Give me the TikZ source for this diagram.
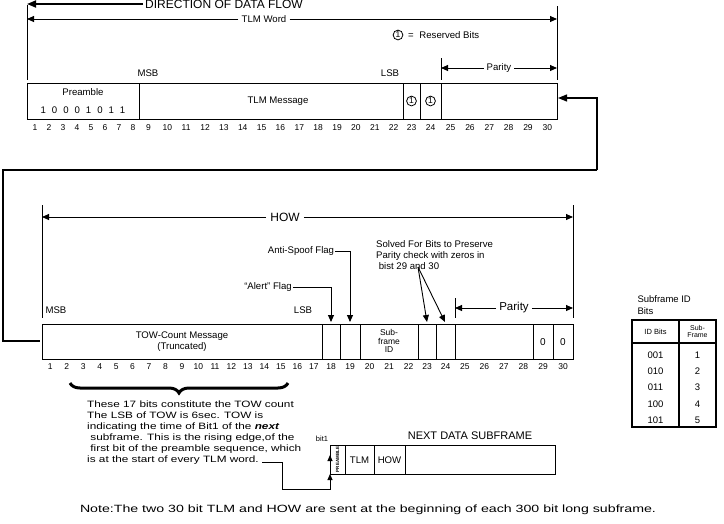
\documentclass[tikz,border=0pt]{standalone}
\usepackage{fontspec}
\setmainfont{Liberation Sans}
\newfontfamily\widefont[FakeStretch=1.28]{Liberation Sans}
\newfontfamily\widerfont[FakeStretch=1.35]{Liberation Sans}
\usetikzlibrary{arrows.meta,decorations.pathreplacing}
\begin{document}
\begin{tikzpicture}[x=1pt,y=-1pt,
  lbl/.style={font=\fontsize{9.6}{11}\selectfont,inner sep=1pt},
  num/.style={font=\fontsize{8.5}{10}\selectfont,inner sep=0pt},
  box/.style={draw,line width=0.9pt},
  dim/.style={line width=0.9pt,-{Triangle[length=7pt,width=6pt]}},
  conn/.style={line width=1.8pt},
  res/.style={draw,circle,line width=0.8pt,inner sep=0.8pt,font=\fontsize{8.5}{9}\selectfont}]
\useasboundingbox (0,0) rectangle (724,523);
% ---------- TLM word ----------
\draw[box] (27,83) rectangle (557,119);
\foreach \x in {139,403,420,441} \draw[box] (\x,83) -- (\x,119);
\node[lbl] (pre) at (83,92) {Preamble};
\node[lbl] (prebits) at (83,110) {1\hspace{6pt}0\hspace{6pt}0\hspace{6pt}0\hspace{6pt}1\hspace{6pt}0\hspace{6pt}1\hspace{6pt}1};
\node[lbl] (tlmmsg) at (278,101) {TLM Message};
\node[res] (r23) at (411.5,101) {1};
\node[res] (r24) at (430.5,101) {1};
\foreach \i in {1,...,8} \node[num] at ({27+14*(\i-0.5)+1},128) {\i};
\foreach \i in {9,...,22} \node[num] at ({139+18.86*(\i-8.5)},128) {\i};
\node[num] at (411.5,128) {23};
\node[num] at (430.5,128) {24};
\foreach \i in {25,...,30} \node[num] at ({441+19.33*(\i-24.5)},128) {\i};
\node[lbl] (msb1) at (148,73) {MSB};
\node[lbl] (lsb1) at (390,73) {LSB};
% top dimension lines
\draw[line width=0.9pt] (27,5) -- (27,80);
\draw[line width=0.9pt] (557,6) -- (557,80);
\node[font=\fontsize{12}{14}\selectfont,inner sep=2pt] (dir) at (224,4) {DIRECTION OF DATA FLOW};
\draw[line width=1.8pt,-{Triangle[length=9pt,width=7pt]}] (dir.west) -- (27,4);
\node[lbl,fill=white,inner sep=3pt] (tlmw) at (264,19) {TLM Word};
\draw[dim] (tlmw.west) -- (27,19);
\draw[dim] (tlmw.east) -- (557,19);
\node[res] (leg) at (398,35) {1};
\node[lbl,anchor=west] (legt) at (407,35) {=\hspace{3pt} Reserved Bits};
\draw[line width=0.9pt] (441,58) -- (441,80);
\node[lbl,fill=white,inner sep=3pt] (par1) at (499,68) {Parity};
\draw[dim] (par1.west) -- (441,68);
\draw[dim] (par1.east) -- (557,68);
% connector between words
\draw[conn] (597,170) -- (597,98) -- (572,98);
\draw[line width=1.2pt,-{Triangle[length=9pt,width=7pt]}] (575,98) -- (558,98);
\draw[conn] (597,170) -- (3,170) -- (3,341) -- (40,341);
% ---------- HOW word ----------
\draw[box] (42,324) rectangle (573,359);
\foreach \x in {322,340,360,418,436,455,533,553} \draw[box] (\x,324) -- (\x,359);
\node[lbl,align=center] (tow) at (182,342) {TOW-Count Message\\(Truncated)};
\node[lbl,align=center,font=\fontsize{8.5}{8.5}\selectfont] (sfid) at (389,341) {Sub-\\frame\\ID};
\node[font=\fontsize{10}{12}\selectfont] (z29) at (543,342) {0};
\node[font=\fontsize{10}{12}\selectfont] (z30) at (563,342) {0};
\foreach \i in {1,...,17} \node[num] at ({42+16.47*(\i-0.5)},367) {\i};
\node[num] at (331,367) {18};
\node[num] at (350,367) {19};
\node[num] at (369.5,367) {20};
\node[num] at (389,367) {21};
\node[num] at (408.5,367) {22};
\node[num] at (427,367) {23};
\node[num] at (445.5,367) {24};
\foreach \i in {25,...,28} \node[num] at ({455+19.5*(\i-24.5)},367) {\i};
\node[num] at (543,367) {29};
\node[num] at (563,367) {30};
\node[lbl] (msb2) at (56,310) {MSB};
\node[lbl] (lsb2) at (303,310) {LSB};
\draw[line width=0.9pt] (42,205) -- (42,318);
\draw[line width=0.9pt] (573,205) -- (573,318);
\node[font=\fontsize{12}{13}\selectfont,fill=white,inner sep=4pt] (how) at (285,217) {HOW};
\draw[dim] (how.west) -- (42,217);
\draw[dim] (how.east) -- (573,217);
\draw[line width=0.9pt] (455,298) -- (455,318);
\node[font=\fontsize{11.5}{13}\selectfont,fill=white,inner sep=3pt] (par2) at (514,308) {Parity};
\draw[dim] (par2.west) -- (455,308);
\draw[dim] (par2.east) -- (573,308);
\node[lbl] (anti) at (301,251) {Anti-Spoof Flag};
\draw[dim] (anti.east) -- (350,251) -- (350,322);
\node[lbl] (alert) at (268,287) {``Alert'' Flag};
\draw[dim] (alert.east) -- (331,287) -- (331,322);
\node[lbl,align=left,anchor=north west] (solved) at (375,239) {Solved For Bits to Preserve\\Parity check with zeros in\\\ bist 29 and 30};
\coordinate (sv) at (418,267);
\draw[dim] (sv) -- (427,322);
\draw[dim] (sv) -- (445,322);
% brace and note
\draw[line width=3pt,decorate,decoration={brace,mirror,amplitude=10pt}] (70,383) -- (288,383);
\node[align=left,anchor=north west,inner sep=1pt,font=\widefont\fontsize{9.2}{11}\selectfont] (note17) at (86,400) {These 17 bits constitute the TOW count\\The LSB of TOW is 6sec. TOW is\\indicating the time of Bit1 of the \textbf{\textit{next}}\\\ subframe. This is the rising edge,of the\\\ first bit of the preamble sequence, which\\is at the start of every TLM word.};
% next subframe
\draw[box] (330,445) rectangle (555,474);
\foreach \x in {345,374,405} \draw[box] (\x,445) -- (\x,474);
\node[rotate=90,font=\fontsize{4.5}{5}\selectfont\bfseries,inner sep=0pt] (pream) at (337.5,459.5) {PREAMBLE};
\node[lbl] (ntlm) at (359.5,460) {TLM};
\node[lbl] (nhow) at (389.5,460) {HOW};
\node[font=\fontsize{11}{12}\selectfont] (nds) at (470,436) {NEXT DATA SUBFRAME};
\node[font=\fontsize{7.5}{8}\selectfont] (bit1) at (322,439) {bit1};
\draw[line width=0.9pt] (262,462) -- (282,462) -- (282,489) -- (330,489) -- (330,476);
\draw[line width=0.9pt,-{Triangle[length=6pt,width=5pt]}] (330,489) -- (330,474);
\draw[line width=0.9pt,-{Triangle[length=6pt,width=5pt]}] (330,470) -- (330,455);
% table
\node[font=\fontsize{9.5}{12}\selectfont,align=left,anchor=north west] (tt) at (634,292) {Subframe ID\\Bits};
\draw[line width=1.6pt] (632,320) rectangle (716,427);
\draw[line width=1.6pt] (679,320) -- (679,427);
\draw[line width=1.6pt] (632,343) -- (716,343);
\node[font=\fontsize{7.5}{8}\selectfont] (h1) at (655.5,331.5) {ID Bits};
\node[font=\fontsize{7}{7.5}\selectfont,align=center] (h2) at (697.5,331.5) {Sub-\\Frame};
\foreach \a/\b [count=\k] in {001/1,010/2,011/3,100/4,101/5} {
  \node[font=\fontsize{9.5}{10}\selectfont] at (655.5,{339+16.2*\k}) {\a};
  \node[font=\fontsize{9.5}{10}\selectfont] at (697.5,{339+16.2*\k}) {\b};
}
\node[font=\widerfont\fontsize{10.5}{12}\selectfont,inner sep=1pt] (bnote) at (368,510) {Note:The two 30 bit TLM and HOW are sent at the beginning of each 300 bit long subframe.};
\end{tikzpicture}
\end{document}
